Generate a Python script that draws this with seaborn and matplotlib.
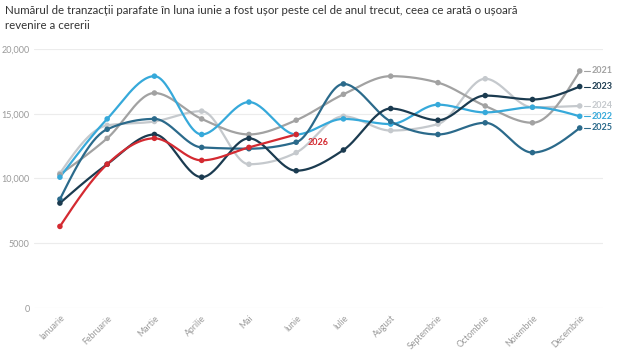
import numpy as np
import pandas as pd
import matplotlib
matplotlib.use("Agg")
import matplotlib.pyplot as plt
import seaborn as sns

months = ["Ianuarie", "Februarie", "Martie", "Aprilie", "Mai", "Iunie", "Iulie",
          "August", "Septembrie", "Octombrie", "Noiembrie", "Decembrie"]
y2021 = [10300, 13100, 16600, 14600, 13400, 14500, 16500, 17900, 17400, 15600, 14300, 18300]
y2022 = [10100, 14600, 17900, 13400, 15900, 13400, 14600, 14200, 15700, 15100, 15500, 14800]
y2023 = [8100, 11100, 13400, 10100, 13100, 10600, 12200, 15400, 14500, 16400, 16100, 17100]
y2024 = [10400, 14100, 14400, 15200, 11100, 12000, 14800, 13700, 14200, 17700, 15500, 15600]
y2025 = [8400, 13800, 14600, 12400, 12300, 12800, 17300, 14400, 13400, 14300, 12000, 13900]
y2026 = [6300, 11100, 13100, 11400, 12400, 13400]

series = {"2021": y2021, "2022": y2022, "2023": y2023, "2024": y2024, "2025": y2025, "2026": y2026}
colors = {"2021": "#a2a2a2", "2022": "#36a9da", "2023": "#1b3b50", "2024": "#c5c9cd",
          "2025": "#2b6a8b", "2026": "#d42a31"}
order = ["2024", "2021", "2022", "2025", "2023", "2026"]
title = ("Numărul de tranzacții parafate în luna iunie a fost ușor peste cel de anul trecut, ceea ce arată o ușoară\n"
         "revenire a cererii")


def monotone(y, n=30):
    """d3 curveMonotoneX rendering of equally spaced points."""
    y = np.asarray(y, float)
    m = len(y)
    x = np.arange(m, dtype=float)
    s = np.diff(y)
    t = np.zeros(m)
    for i in range(1, m - 1):
        s0, s1 = s[i - 1], s[i]
        p = (s0 + s1) / 2
        t[i] = (np.sign(s0) + np.sign(s1)) * min(abs(s0), abs(s1), 0.5 * abs(p)) if True else p
    if m > 2:
        t[0] = (3 * s[0] - t[1]) / 2
        t[-1] = (3 * s[-1] - t[-2]) / 2
    else:
        t[:] = s[0]
    xs, ys = [], []
    for i in range(m - 1):
        u = np.linspace(0, 1, n, endpoint=(i == m - 2))
        P0 = np.array([x[i], y[i]])
        P1 = np.array([x[i] + 1 / 3, y[i] + t[i] / 3])
        P2 = np.array([x[i + 1] - 1 / 3, y[i + 1] - t[i + 1] / 3])
        P3 = np.array([x[i + 1], y[i + 1]])
        B = ((1 - u) ** 3)[:, None] * P0 + (3 * (1 - u) ** 2 * u)[:, None] * P1 + \
            (3 * (1 - u) * u ** 2)[:, None] * P2 + (u ** 3)[:, None] * P3
        xs.append(B[:, 0]); ys.append(B[:, 1])
    return np.concatenate(xs), np.concatenate(ys)


sns.set_theme(style="white")
plt.rcParams['font.family'] = ['Lato', 'DejaVu Sans']

fig = plt.figure(figsize=(6.4, 3.6), dpi=100)
ax = fig.add_axes([0.053, 0.1444, 0.889, 0.7196])

dense_rows = []
pt_rows = []
for yr in order:
    vals = series[yr]
    xs, ys = monotone(vals)
    for a, b in zip(xs, ys):
        dense_rows.append((yr, a, b))
    for i, v in enumerate(vals):
        pt_rows.append((yr, i, v))
dense = pd.DataFrame(dense_rows, columns=["year", "x", "y"])
pts = pd.DataFrame(pt_rows, columns=["year", "x", "y"])

for yr in order:
    sns.lineplot(data=dense[dense.year == yr], x="x", y="y", color=colors[yr], lw=1.6,
                 ax=ax, sort=False, estimator=None, legend=False, zorder=3)
    sns.scatterplot(data=pts[pts.year == yr], x="x", y="y", color=colors[yr], s=16,
                    edgecolor="none", ax=ax, legend=False, zorder=4, clip_on=False)

ax.set_xlim(-0.55, 11.49)
ax.set_ylim(0, 20000)
ax.set_yticks([0, 5000, 10000, 15000, 20000])
ax.set_yticklabels(["0", "5000", "10,000", "15,000", "20,000"])
ax.set_xticks(range(12))
ax.set_xticklabels(months, rotation=45, ha="right", rotation_mode="anchor")
ax.tick_params(axis="y", labelsize=6.5, labelcolor="#9a9a9a", length=0, pad=3)
ax.tick_params(axis="x", labelsize=6.3, labelcolor="#9a9a9a", length=0, pad=4)
ax.grid(axis="y", color="#ececec", lw=0.8)
ax.set_axisbelow(True)
for sp in ax.spines.values():
    sp.set_visible(False)
ax.set_xlabel("")
ax.set_ylabel("")

# end labels
for yr in ["2021", "2022", "2023", "2024", "2025"]:
    v = series[yr][-1]
    ax.plot([11.08, 11.22], [v, v], color=colors[yr], lw=0.8, clip_on=False)
    ax.text(11.25, v, yr, color=colors[yr], fontsize=6.5, fontweight="bold",
            va="center", ha="left", clip_on=False)
ax.text(5.25, y2026[-1] - 600, "2026", color=colors["2026"], fontsize=6.5,
        fontweight="bold", va="center", ha="left")

fig.text(0.008, 0.985, title, ha="left", va="top", fontsize=8.3, color="#333333",
         linespacing=1.35)

fig.savefig("out.png", dpi=100)
